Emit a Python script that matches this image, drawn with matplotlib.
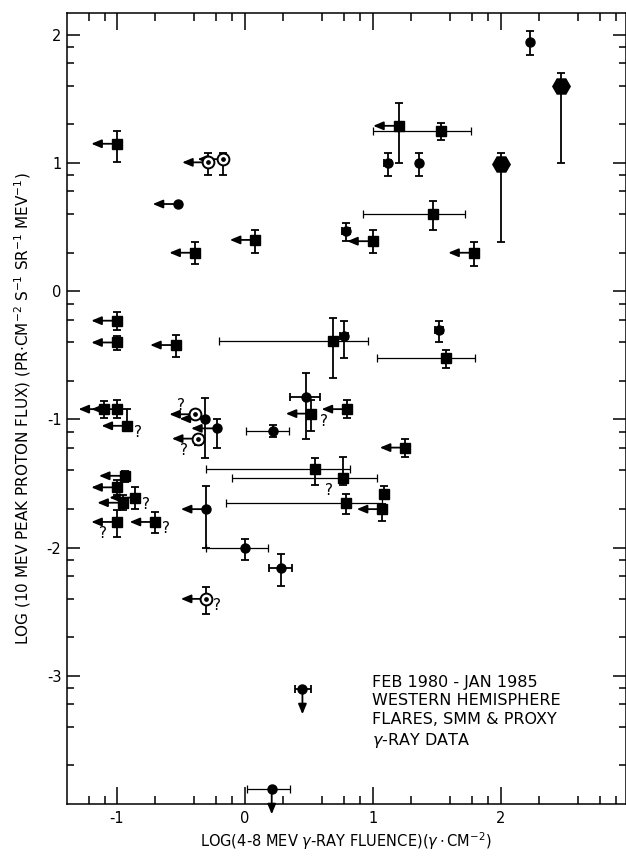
import numpy as np
import matplotlib
matplotlib.use('Agg')
import matplotlib.pyplot as plt
from matplotlib.ticker import FixedLocator

plt.rcParams['font.family'] = ['DejaVu Sans']
plt.rcParams['axes.unicode_minus'] = False

N = None
# ---------------- data ----------------
# Filled squares
sq_x   = [-1.00, -0.39, 0.083, 1.203, 1.53, 1.47, 1.00, 1.79, -1.00, -1.00, -0.54, 0.6875, 1.57,
          -1.10, -1.00, -0.92, 0.52, 0.80, 1.255, -0.94, -1.00, -0.953, -0.86, -1.00, -0.70,
          0.547, 0.77, 1.086, 0.79, 1.075]
sq_y   = [1.15, 0.30, 0.40, 1.29, 1.25, 0.60, 0.39, 0.30, -0.23, -0.40, -0.42, -0.39, -0.52,
          -0.92, -0.92, -1.05, -0.955, -0.92, -1.22, -1.44, -1.53, -1.65, -1.61, -1.80, -1.80,
          -1.39, -1.46, -1.58, -1.65, -1.70]
sq_ylo = [1.01, 0.21, 0.30, 1.00, 1.18, 0.48, 0.30, 0.20, -0.30, -0.46, -0.51, -0.68, -0.60,
          -0.99, -0.99, -1.09, -1.09, -0.99, -1.29, -1.49, -1.59, -1.71, -1.70, -1.92, -1.885,
          -1.51, -1.515, -1.62, -1.74, -1.79]
sq_yhi = [1.25, 0.385, 0.477, 1.47, 1.315, 0.70, 0.477, 0.38, -0.16, -0.35, -0.34, -0.21, -0.46,
          -0.857, -0.85, -0.92, -0.85, -0.846, -1.15, -1.40, -1.47, -1.59, -1.53, -1.71, -1.72,
          -1.30, -1.295, -1.52, -1.58, -1.66]
sq_xlo = [N, N, N, N, 1.00, 0.925, N, N, N, N, N, -0.20, 1.03,
          N, N, N, N, N, N, N, N, N, N, N, N,
          -0.30, -0.104, N, -0.15, N]
sq_xhi = [N, N, N, N, 1.77, 1.72, N, N, N, N, N, 0.963, 1.80,
          N, N, N, N, N, N, N, N, N, N, N, N,
          0.82, 1.03, N, 1.075, N]
sq_ul  = [1, 1, 1, 1, 0, 0, 1, 1, 1, 1, 1, 0, 0,
          1, 1, 1, 1, 1, 1, 1, 1, 1, 1, 1, 1,
          0, 0, 0, 0, 1]
sq_q   = ['', '', '', '', '', '', '', '', '', '', '', '', '',
          '', '', 'r', 'rb', '', '', '', '', '', 'r', 'bl', 'r',
          '', 'bl', '', '', '']

# Filled circles
ci_x   = [-0.52, 1.115, 1.36, 0.79, 2.227, 0.776, 1.52, -0.31, -0.22, 0.22, 0.48,
          -0.30, 0.005, 0.28, 0.45, 0.21]
ci_y   = [0.68, 1.00, 1.00, 0.47, 1.94, -0.35, -0.30, -0.995, -1.07, -1.09, -0.826,
          -1.70, -2.00, -2.16, -3.10, -3.88]
ci_ylo = [N, 0.90, 0.90, 0.39, 1.84, -0.52, -0.40, -1.30, -1.22, -1.14, -1.15,
          -2.00, -2.10, -2.30, N, N]
ci_yhi = [N, 1.076, 1.076, 0.53, 2.03, -0.23, -0.23, -0.83, -0.995, -1.04, -0.64,
          -1.52, -1.93, -2.05, N, N]
ci_xlo = [N, 1.085, N, 0.76, N, 0.746, 1.49, N, N, 0.008, 0.35,
          N, -0.30, 0.185, 0.39, 0.014]
ci_xhi = [N, 1.145, N, 0.82, N, 0.806, 1.55, N, N, 0.346, 0.586,
          N, 0.18, 0.37, 0.514, 0.35]
ci_ul  = [1, 0, 0, 0, 0, 0, 0, 1, 1, 0, 0,
          1, 0, 0, 0, 0]
ci_dl  = [0, 0, 0, 0, 0, 0, 0, 0, 0, 0, 0,
          0, 0, 0, 1, 1]

# Open circles with central dot
su_x   = [-0.29, -0.17, -0.39, -0.37, -0.30]
su_y   = [1.005, 1.03, -0.96, -1.15, -2.40]
su_ylo = [0.91, 0.91, N, -1.20, -2.52]
su_yhi = [1.08, 1.08, N, -1.12, -2.31]
su_ul  = [1, 1, 1, 1, 1]
su_q   = ['', '', 'al', 'bl', 'r']

# Large hexagons
hx_x   = [2.47, 2.00]
hx_y   = [1.60, 0.99]
hx_ylo = [1.00, 0.385]
hx_yhi = [1.70, 1.08]

x_major = [-1, 0, 1, 2]
y_major = [-3, -2, -1, 0, 1, 2]
minor_mult = [2, 4, 6, 8]

ARROW = 0.2

# ---------------- figure ----------------
fig = plt.figure(figsize=(6.26, 8.56), dpi=100)
ax = fig.add_axes([67 / 626, 52 / 856, (625.5 - 67) / 626, (804 - 13) / 856])
ax.set_xlim(-1.39, 2.975)
ax.set_ylim(-4.0, 2.17)

LW = 1.3


def yerrbar(x, y, lo, hi):
    if lo is None:
        return
    ax.errorbar([x], [y], yerr=[[y - lo], [hi - y]], fmt='none', ecolor='k',
                elinewidth=LW, capsize=2.6, capthick=LW, zorder=3)


def xerrbar(x, y, lo, hi):
    if lo is None:
        return
    w = hi - lo
    ax.errorbar([x], [y], xerr=[[x - lo], [hi - x]], fmt='none', ecolor='k',
                elinewidth=0.9 if w > 0.3 else LW, capsize=3.0, capthick=0.9 if w > 0.3 else LW,
                zorder=3)


def left_arrow(x, y):
    ax.annotate('', xy=(x - ARROW, y), xytext=(x, y),
                arrowprops=dict(arrowstyle='-|>,head_length=0.6,head_width=0.25',
                                color='k', lw=LW, shrinkA=0, shrinkB=0, mutation_scale=10),
                zorder=2)


def down_arrow(x, y):
    ax.annotate('', xy=(x, y - ARROW), xytext=(x, y),
                arrowprops=dict(arrowstyle='-|>,head_length=0.6,head_width=0.25',
                                color='k', lw=LW, shrinkA=0, shrinkB=0, mutation_scale=10),
                zorder=2, annotation_clip=False)


QOFF = {'r': (5, -5), 'rb': (6, -11), 'bl': (-13, -14), 'al': (-13, 1)}


def qmark(x, y, code):
    if not code:
        return
    ax.annotate('?', xy=(x, y), xytext=QOFF[code], textcoords='offset points',
                fontsize=11, ha='left', va='center' if code in ('r',) else 'bottom')


# squares
for i in range(len(sq_x)):
    x, y = sq_x[i], sq_y[i]
    yerrbar(x, y, sq_ylo[i], sq_yhi[i])
    xerrbar(x, y, sq_xlo[i], sq_xhi[i])
    if sq_ul[i]:
        left_arrow(x, y)
    qmark(x, y, sq_q[i])
ax.plot(sq_x, sq_y, 's', color='k', ms=6.8, ls='none', zorder=4)

# circles
for i in range(len(ci_x)):
    x, y = ci_x[i], ci_y[i]
    yerrbar(x, y, ci_ylo[i], ci_yhi[i])
    xerrbar(x, y, ci_xlo[i], ci_xhi[i])
    if ci_ul[i]:
        left_arrow(x, y)
    if ci_dl[i]:
        down_arrow(x, y)
ax.plot(ci_x, ci_y, 'o', color='k', ms=6.5, ls='none', zorder=4, clip_on=False)

# sun symbols
for i in range(len(su_x)):
    x, y = su_x[i], su_y[i]
    yerrbar(x, y, su_ylo[i], su_yhi[i])
    if su_ul[i]:
        left_arrow(x, y)
    qmark(x, y, su_q[i])
ax.plot(su_x, su_y, 'o', mfc='white', mec='k', mew=1.4, ms=8.5, ls='none', zorder=4)
ax.plot(su_x, su_y, 'o', color='k', ms=2.4, ls='none', zorder=5)

# hexagons
for i in range(len(hx_x)):
    yerrbar(hx_x[i], hx_y[i], hx_ylo[i], hx_yhi[i])
ax.plot(hx_x, hx_y, 'H', color='k', ms=12.5, ls='none', zorder=4)

# ---------------- axes styling ----------------
decades = range(-5, 4)
x_minor = [d + np.log10(m) for d in decades for m in minor_mult]
y_minor = [d + np.log10(m) for d in decades for m in minor_mult]
ax.xaxis.set_major_locator(FixedLocator(x_major))
ax.yaxis.set_major_locator(FixedLocator(y_major))
ax.xaxis.set_minor_locator(FixedLocator(x_minor))
ax.yaxis.set_minor_locator(FixedLocator(y_minor))
ax.set_xticklabels([str(v) for v in x_major])
ax.set_yticklabels([str(v) for v in y_major])

ax.tick_params(axis='both', which='both', direction='in', top=True, right=True,
               width=1.1, labelsize=10.5, colors='k')
ax.tick_params(axis='x', which='major', length=12.5, pad=5)
ax.tick_params(axis='x', which='minor', length=6)
ax.tick_params(axis='y', which='major', length=9.5, pad=4)
ax.tick_params(axis='y', which='minor', length=5)
for s in ax.spines.values():
    s.set_linewidth(1.1)

ax.set_xlabel(r'LOG(4-8 MEV $\gamma$-RAY FLUENCE)($\gamma\cdot$CM$^{-2}$)', fontsize=10.5,
              labelpad=3)
ax.set_ylabel(r'LOG (10 MEV PEAK PROTON FLUX) (PR$\cdot$CM$^{-2}$ S$^{-1}$ SR$^{-1}$ MEV$^{-1}$)',
              fontsize=11, labelpad=10)

ax.text(0.99, -2.99, 'FEB 1980 - JAN 1985\nWESTERN HEMISPHERE\nFLARES, SMM & PROXY\n'
        r'$\gamma$-RAY DATA', fontsize=11.5, ha='left', va='top', linespacing=1.3)

fig.savefig('out.png', dpi=100)
